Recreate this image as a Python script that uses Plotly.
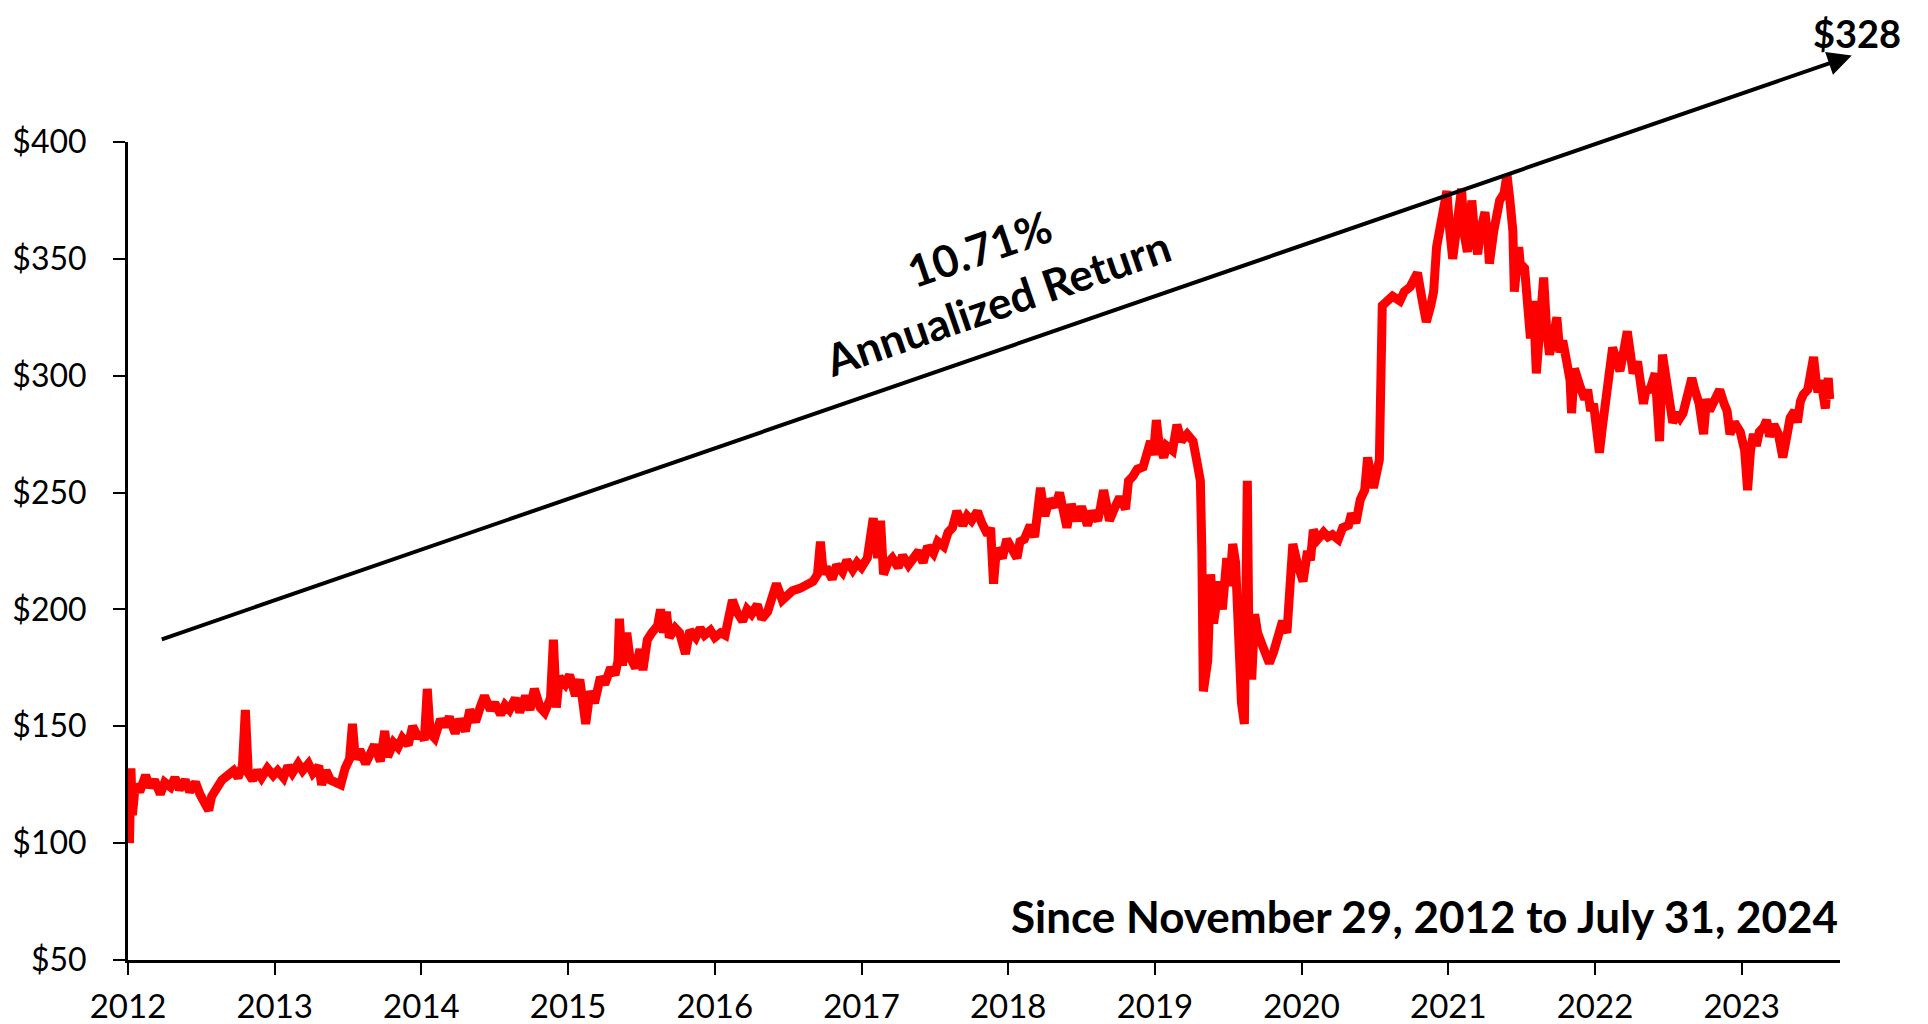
import plotly.graph_objects as go

# Price index, split by stretch of years (x = decimal year)
years_a = [2012.01, 2012.02, 2012.03, 2012.05, 2012.08, 2012.12, 2012.15, 2012.18, 2012.22, 2012.25,
           2012.29, 2012.32, 2012.35, 2012.39, 2012.42, 2012.46, 2012.49, 2012.52, 2012.55, 2012.57,
           2012.61, 2012.64, 2012.68, 2012.72, 2012.75, 2012.78, 2012.80, 2012.82, 2012.85, 2012.88,
           2012.91, 2012.95, 2012.99, 2013.02, 2013.06, 2013.09, 2013.12, 2013.16, 2013.19, 2013.23,
           2013.26, 2013.30, 2013.32, 2013.35, 2013.38, 2013.41, 2013.45, 2013.48, 2013.51, 2013.53,
           2013.55, 2013.58, 2013.62, 2013.65, 2013.68, 2013.72, 2013.75, 2013.77, 2013.81, 2013.84,
           2013.87, 2013.91, 2013.94, 2013.98, 2014.00, 2014.02, 2014.04, 2014.06, 2014.09, 2014.13,
           2014.16, 2014.19, 2014.23, 2014.26, 2014.30, 2014.33, 2014.37, 2014.40, 2014.43, 2014.47,
           2014.50, 2014.54, 2014.57, 2014.60, 2014.64, 2014.67, 2014.71, 2014.74, 2014.77, 2014.81,
           2014.84, 2014.88, 2014.90, 2014.92, 2014.94, 2014.98, 2015.01, 2015.05, 2015.08]
price_a = [100, 132, 112, 125, 122, 129, 124, 127, 121, 126,
           124, 128, 123, 127, 122, 126, 121, 118, 114, 120,
           124, 127, 129, 131, 128, 133, 157, 130, 127, 131,
           128, 132, 129, 131, 128, 133, 130, 134, 131, 134,
           130, 133, 125, 131, 127, 126, 125, 132, 136, 151,
           136, 140, 134, 138, 142, 135, 148, 137, 143, 141,
           145, 142, 150, 145, 147, 144, 166, 147, 145, 153,
           150, 154, 147, 153, 148, 157, 152, 158, 163, 157,
           160, 155, 159, 157, 162, 156, 163, 157, 166, 158,
           156, 162, 187, 158, 171, 168, 172, 163, 170]

years_b = [2015.12, 2015.15, 2015.18, 2015.22, 2015.25, 2015.29, 2015.32, 2015.34, 2015.35, 2015.37,
           2015.40, 2015.42, 2015.46, 2015.49, 2015.51, 2015.54, 2015.57, 2015.61, 2015.63, 2015.65,
           2015.67, 2015.69, 2015.73, 2015.76, 2015.80, 2015.83, 2015.87, 2015.90, 2015.93, 2015.97,
           2016.00, 2016.04, 2016.07, 2016.10, 2016.12, 2016.15, 2016.19, 2016.22, 2016.25, 2016.29,
           2016.32, 2016.36, 2016.39, 2016.42, 2016.46, 2016.49, 2016.53, 2016.58, 2016.63, 2016.67,
           2016.70, 2016.72, 2016.74, 2016.76, 2016.80, 2016.83, 2016.87, 2016.90, 2016.94, 2016.97,
           2017.00, 2017.04, 2017.08, 2017.11, 2017.13, 2017.15, 2017.18, 2017.21, 2017.25, 2017.28,
           2017.32, 2017.35, 2017.39, 2017.42, 2017.45, 2017.49, 2017.52, 2017.56, 2017.59, 2017.62,
           2017.65, 2017.69, 2017.72, 2017.75, 2017.79, 2017.82, 2017.86, 2017.88, 2017.90, 2017.92,
           2017.96, 2017.99, 2018.03, 2018.06, 2018.08]
price_b = [151, 165, 160, 171, 168, 175, 172, 178, 196, 176,
           190, 180, 175, 183, 174, 187, 190, 193, 200, 190,
           199, 188, 192, 190, 181, 191, 188, 192, 189, 191,
           188, 190, 189, 196, 204, 199, 195, 200, 198, 202,
           196, 199, 206, 211, 204, 206, 208, 209, 211, 212,
           215, 229, 215, 218, 213, 219, 216, 221, 217, 220,
           218, 222, 239, 222, 238, 215, 220, 222, 218, 223,
           219, 221, 225, 220, 227, 224, 229, 227, 233, 235,
           242, 236, 240, 238, 242, 237, 232, 235, 211, 226,
           222, 230, 226, 222, 229]

years_c = [2018.11, 2018.15, 2018.18, 2018.22, 2018.25, 2018.28, 2018.32, 2018.35, 2018.38, 2018.40,
           2018.43, 2018.47, 2018.50, 2018.54, 2018.57, 2018.61, 2018.63, 2018.65, 2018.67, 2018.69,
           2018.73, 2018.76, 2018.80, 2018.82, 2018.85, 2018.88, 2018.92, 2018.95, 2018.97, 2018.99,
           2019.01, 2019.03, 2019.06, 2019.08, 2019.12, 2019.15, 2019.18, 2019.22, 2019.24, 2019.26,
           2019.29, 2019.31, 2019.32, 2019.33, 2019.36, 2019.38, 2019.40, 2019.42, 2019.44, 2019.46,
           2019.49, 2019.51, 2019.53, 2019.55, 2019.57, 2019.59, 2019.61, 2019.63, 2019.64, 2019.66,
           2019.68, 2019.70, 2019.73, 2019.76, 2019.78, 2019.81, 2019.84, 2019.87, 2019.90, 2019.92,
           2019.94, 2019.97, 2019.99, 2020.01, 2020.04, 2020.06, 2020.08, 2020.11, 2020.15, 2020.18,
           2020.21, 2020.25, 2020.28, 2020.32, 2020.34, 2020.37, 2020.40, 2020.43, 2020.45, 2020.47,
           2020.49, 2020.51, 2020.53]
price_c = [230, 236, 231, 252, 240, 247, 244, 250, 243, 235,
           245, 238, 244, 236, 242, 238, 244, 251, 245, 238,
           244, 248, 243, 255, 257, 260, 261, 268, 272, 266,
           281, 270, 265, 270, 268, 279, 272, 275, 273, 272,
           262, 255, 225, 165, 178, 215, 194, 207, 212, 200,
           222, 210, 228, 220, 172, 160, 151, 255, 190, 170,
           198, 190, 185, 180, 177, 182, 188, 195, 190, 210,
           228, 220, 215, 212, 225, 221, 234, 230, 233, 231,
           232, 230, 235, 236, 241, 237, 247, 251, 265, 255,
           252, 258, 264]

years_d = [2020.55, 2020.59, 2020.62, 2020.67, 2020.70, 2020.74, 2020.79, 2020.82, 2020.85, 2020.88,
           2020.90, 2020.92, 2020.95, 2020.97, 2020.99, 2021.01, 2021.03, 2021.06, 2021.08, 2021.09,
           2021.11, 2021.13, 2021.15, 2021.16, 2021.18, 2021.20, 2021.22, 2021.24, 2021.25, 2021.27,
           2021.28, 2021.31, 2021.33, 2021.35, 2021.38, 2021.40, 2021.42, 2021.44, 2021.45, 2021.48,
           2021.49, 2021.52, 2021.56, 2021.58, 2021.60, 2021.63, 2021.65, 2021.67, 2021.69, 2021.72,
           2021.74, 2021.76, 2021.78, 2021.81, 2021.83, 2021.84, 2021.86, 2021.90, 2021.93, 2021.95,
           2021.97, 2021.99, 2022.01, 2022.03, 2022.05, 2022.07, 2022.10, 2022.12, 2022.15, 2022.17,
           2022.20, 2022.22, 2022.24, 2022.26, 2022.29, 2022.31, 2022.33, 2022.35, 2022.37, 2022.41,
           2022.43, 2022.44, 2022.46, 2022.48, 2022.51, 2022.53, 2022.56, 2022.58, 2022.60, 2022.63,
           2022.66, 2022.68, 2022.71, 2022.74, 2022.76, 2022.78, 2022.82, 2022.85, 2022.88, 2022.90,
           2022.92, 2022.95, 2022.97, 2022.99, 2023.02, 2023.04, 2023.06, 2023.08, 2023.10, 2023.12,
           2023.15, 2023.17, 2023.19, 2023.22, 2023.25, 2023.27, 2023.28, 2023.31, 2023.33, 2023.36,
           2023.38, 2023.40, 2023.42, 2023.45, 2023.47, 2023.49, 2023.51, 2023.52, 2023.54, 2023.56,
           2023.57, 2023.59, 2023.60]
price_d = [330, 332, 334, 332, 336, 338, 344, 333, 323, 330,
           336, 355, 368, 372, 379, 362, 350, 365, 372, 380,
           360, 353, 365, 375, 360, 352, 362, 366, 370, 358,
           348, 362, 372, 375, 378, 386, 375, 362, 336, 355,
           348, 346, 316, 332, 301, 325, 342, 320, 309, 318,
           325, 310, 315, 305, 298, 284, 303, 295, 290, 294,
           285, 288, 280, 267, 278, 290, 300, 312, 306, 302,
           312, 319, 310, 301, 306, 296, 288, 295, 293, 301,
           284, 272, 309, 300, 290, 280, 284, 282, 284, 290,
           299, 294, 288, 275, 290, 285, 290, 294, 288, 285,
           275, 280, 278, 276, 268, 251, 268, 275, 270, 276,
           278, 281, 274, 279, 275, 270, 265, 275, 282, 285,
           280, 289, 292, 294, 300, 308, 296, 293, 298, 292,
           286, 299, 290]

years = years_a + years_b + years_c + years_d
prices = price_a + price_b + price_c + price_d

# trend arrow (start and end in data units) and the labels
trend_start = (2012.22, 187)
trend_end = (2023.75, 437)
end_label = "$328"
trend_label = "10.71%<br>Annualized Return"
period_label = "Since November 29, 2012 to July 31, 2024"
tick_years = list(range(2012, 2024))

font = "Lato, 'Open Sans', sans-serif"

fig = go.Figure()
fig.add_trace(go.Scatter(x=years, y=prices, mode="lines",
                         line=dict(color="#ff0000", width=9), showlegend=False))

# black trend line with arrow head
fig.add_annotation(x=trend_end[0], y=trend_end[1], ax=trend_start[0], ay=trend_start[1],
                   xref="x", yref="y", axref="x", ayref="y", text="",
                   showarrow=True, arrowhead=2, arrowsize=1.2, arrowwidth=4, arrowcolor="black")
fig.add_annotation(x=1.01, y=1.133, xref="paper", yref="paper", xanchor="center", yanchor="middle",
                   text="<b>" + end_label + "</b>", borderpad=0,
                   showarrow=False, font=dict(size=38, color="black", family=font))
fig.add_annotation(x=2017.86, y=343, xref="x", yref="y", text="<b>" + trend_label + "</b>",
                   showarrow=False, textangle=-19,
                   font=dict(size=44, color="black", family=font))
fig.add_annotation(x=1, y=69, xref="paper", yref="y", xanchor="right", yanchor="middle",
                   text="<b>" + period_label + "</b>", showarrow=False,
                   font=dict(size=44, color="black", family=font))

fig.update_layout(
    width=1912, height=1016,
    margin=dict(l=120, r=80, t=134, b=64),
    plot_bgcolor="white", paper_bgcolor="white",
    font=dict(family=font, size=33, color="black"),
)
fig.update_xaxes(range=[2012, 2023.67], tickvals=tick_years, ticktext=[str(y) for y in tick_years],
                 showgrid=False, zeroline=False, showline=True, linecolor="black", linewidth=3,
                 ticks="outside", ticklen=12, tickwidth=2, tickcolor="black",
                 ticklabelstandoff=3, automargin=False)
fig.update_yaxes(range=[50, 400], dtick=50, tickprefix="$", tickfont=dict(size=32),
                 showgrid=False, zeroline=False, showline=True, linecolor="black", linewidth=3,
                 ticks="outside", ticklen=12, tickwidth=2, tickcolor="black",
                 ticklabelstandoff=20, automargin=False)

fig.write_html("out.html")
